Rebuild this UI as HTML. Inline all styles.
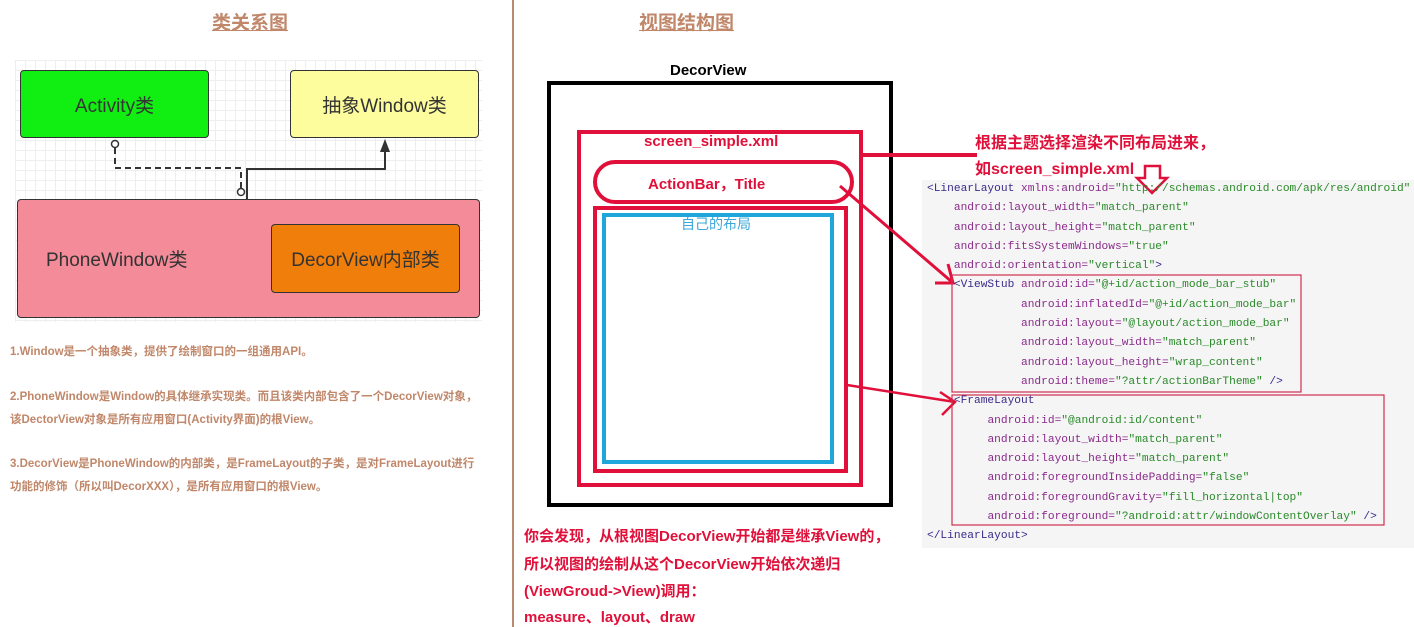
<!DOCTYPE html>
<html><head><meta charset="utf-8"><style>
body{margin:0;width:1414px;height:627px;position:relative;background:#fff;font-family:"Liberation Sans","Noto Sans CJK SC",sans-serif;overflow:hidden}
.a{position:absolute;white-space:nowrap}
.t{color:#c0876a;font-weight:bold;font-size:19px;text-decoration:underline}
.box{position:absolute;box-sizing:border-box;border:1.5px solid #333;border-radius:4px;display:flex;align-items:center;justify-content:center;font-size:19px;color:#333}
.n{color:#c0876a;font-weight:bold;font-size:11.5px}
.r{color:#e0103a;font-weight:bold;font-size:15px}
.code{font-family:"Liberation Mono","Noto Sans CJK SC",monospace;font-size:11.2px;line-height:19.3px}
.k{color:#3a2a8a}.p{color:#8a2a8a}.v{color:#2a8a2a}
</style></head><body>
<div class="a" style="left:15px;top:60px;width:467px;height:262px;background-image:linear-gradient(#eee 1px,transparent 1px),linear-gradient(90deg,#eee 1px,transparent 1px);background-size:10px 10px"></div>
<div class="a t" style="left:212px;top:8px">类关系图</div>
<div class="box" style="left:20px;top:70px;width:189px;height:68px;background:#11ee11">Activity类</div>
<div class="box" style="left:290px;top:70px;width:189px;height:68px;background:#fdfd9d">抽象Window类</div>
<div class="box" style="left:17px;top:199px;width:463px;height:119px;background:#f38b99;justify-content:flex-start;padding-left:28px">PhoneWindow类</div>
<div class="box" style="left:271px;top:224px;width:189px;height:69px;background:#f07e0a">DecorView内部类</div>
<svg class="a" style="left:0;top:0" width="1414" height="627">
<path d="M115 148 V168 H241 V188" fill="none" stroke="#333" stroke-width="2" stroke-dasharray="6,4"/>
<circle cx="115" cy="144" r="3.5" fill="#fff" stroke="#333" stroke-width="1.5"/>
<circle cx="241" cy="192" r="3.5" fill="#fff" stroke="#333" stroke-width="1.5"/>
<path d="M247 199 V169 H385 V150" fill="none" stroke="#333" stroke-width="2"/>
<path d="M385 139 L380 152 L390 152Z" fill="#333"/>
<line x1="513" y1="0" x2="513" y2="627" stroke="#b98a70" stroke-width="2"/>
<rect x="549" y="83" width="342" height="422" fill="none" stroke="#000" stroke-width="4"/>
<rect x="579" y="132" width="282" height="353" fill="none" stroke="#e0103a" stroke-width="4"/>
<rect x="595" y="208" width="251" height="263" fill="none" stroke="#e0103a" stroke-width="4"/>
<rect x="604" y="215" width="228" height="247" fill="none" stroke="#1fa6da" stroke-width="4"/>
<rect x="595" y="162" width="257" height="40" rx="20" fill="none" stroke="#e0103a" stroke-width="4"/>
<path d="M862 155 H977" stroke="#e0103a" stroke-width="4"/>
<path d="M840 186 L952 282 M935 283 L953 283 L948 264" fill="none" stroke="#e0103a" stroke-width="3"/>
<path d="M847 385 L955 402 M940 392 L955 402 L942 415" fill="none" stroke="#e0103a" stroke-width="2.5"/>
<path d="M1145 166 H1160 V178 H1167 L1152 193 L1137 178 H1145Z" fill="#fff" stroke="#e0103a" stroke-width="2.5"/>
<rect x="952" y="275" width="349" height="117" fill="none" stroke="#d03050" stroke-width="1.2"/>
<rect x="952" y="395" width="432" height="130" fill="none" stroke="#d03050" stroke-width="1.2"/>
</svg>
<div class="a n" style="left:10px;top:343px">1.Window是一个抽象类，提供了绘制窗口的一组通用API。</div>
<div class="a n" style="left:10px;top:388px">2.PhoneWindow是Window的具体继承实现类。而且该类内部包含了一个DecorView对象，</div>
<div class="a n" style="left:10px;top:411px">该DectorView对象是所有应用窗口(Activity界面)的根View。</div>
<div class="a n" style="left:10px;top:455px">3.DecorView是PhoneWindow的内部类，是FrameLayout的子类，是对FrameLayout进行</div>
<div class="a n" style="left:10px;top:478px">功能的修饰（所以叫DecorXXX），是所有应用窗口的根View。</div>
<div class="a t" style="left:639px;top:8px">视图结构图</div>
<div class="a" style="left:670px;top:62px;font-weight:bold;font-size:15px">DecorView</div>
<div class="a r" style="left:644px;top:133px">screen_simple.xml</div>
<div class="a r" style="left:648px;top:173px">ActionBar，Title</div>
<div class="a" style="left:681px;top:214px;color:#3ba7d8;font-size:14px">自己的布局</div>
<div class="a r" style="left:524px;top:525px">你会发现，从根视图DecorView开始都是继承View的，</div>
<div class="a r" style="left:524px;top:553px">所以视图的绘制从这个DecorView开始依次递归</div>
<div class="a r" style="left:524px;top:580px">(ViewGroud-&gt;View)调用：</div>
<div class="a r" style="left:524px;top:606px">measure、layout、draw</div>
<div class="a r" style="left:975px;top:129px;font-size:16px">根据主题选择渲染不同布局进来，</div>
<div class="a r" style="left:975px;top:155px;font-size:16px">如screen_simple.xml</div>
<div class="a" style="left:922px;top:180px;width:492px;height:368px;background:#f5f5f5;z-index:-1"></div>
<div class="a code" style="left:927px;top:180px"><span class="k">&lt;LinearLayout</span> <span class="p">xmlns:android=</span><span class="v">"http://schemas.android.com/apk/res/android"</span><br>
&nbsp;&nbsp;&nbsp;&nbsp;<span class="p">android:layout_width=</span><span class="v">"match_parent"</span><br>
&nbsp;&nbsp;&nbsp;&nbsp;<span class="p">android:layout_height=</span><span class="v">"match_parent"</span><br>
&nbsp;&nbsp;&nbsp;&nbsp;<span class="p">android:fitsSystemWindows=</span><span class="v">"true"</span><br>
&nbsp;&nbsp;&nbsp;&nbsp;<span class="p">android:orientation=</span><span class="v">"vertical"</span><span class="k">&gt;</span><br>
&nbsp;&nbsp;&nbsp;&nbsp;<span class="k">&lt;ViewStub</span> <span class="p">android:id=</span><span class="v">"@+id/action_mode_bar_stub"</span><br>
&nbsp;&nbsp;&nbsp;&nbsp;&nbsp;&nbsp;&nbsp;&nbsp;&nbsp;&nbsp;&nbsp;&nbsp;&nbsp;&nbsp;<span class="p">android:inflatedId=</span><span class="v">"@+id/action_mode_bar"</span><br>
&nbsp;&nbsp;&nbsp;&nbsp;&nbsp;&nbsp;&nbsp;&nbsp;&nbsp;&nbsp;&nbsp;&nbsp;&nbsp;&nbsp;<span class="p">android:layout=</span><span class="v">"@layout/action_mode_bar"</span><br>
&nbsp;&nbsp;&nbsp;&nbsp;&nbsp;&nbsp;&nbsp;&nbsp;&nbsp;&nbsp;&nbsp;&nbsp;&nbsp;&nbsp;<span class="p">android:layout_width=</span><span class="v">"match_parent"</span><br>
&nbsp;&nbsp;&nbsp;&nbsp;&nbsp;&nbsp;&nbsp;&nbsp;&nbsp;&nbsp;&nbsp;&nbsp;&nbsp;&nbsp;<span class="p">android:layout_height=</span><span class="v">"wrap_content"</span><br>
&nbsp;&nbsp;&nbsp;&nbsp;&nbsp;&nbsp;&nbsp;&nbsp;&nbsp;&nbsp;&nbsp;&nbsp;&nbsp;&nbsp;<span class="p">android:theme=</span><span class="v">"?attr/actionBarTheme"</span> <span class="k">/&gt;</span><br>
&nbsp;&nbsp;&nbsp;&nbsp;<span class="k">&lt;FrameLayout</span><br>
&nbsp;&nbsp;&nbsp;&nbsp;&nbsp;&nbsp;&nbsp;&nbsp;&nbsp;<span class="p">android:id=</span><span class="v">"@android:id/content"</span><br>
&nbsp;&nbsp;&nbsp;&nbsp;&nbsp;&nbsp;&nbsp;&nbsp;&nbsp;<span class="p">android:layout_width=</span><span class="v">"match_parent"</span><br>
&nbsp;&nbsp;&nbsp;&nbsp;&nbsp;&nbsp;&nbsp;&nbsp;&nbsp;<span class="p">android:layout_height=</span><span class="v">"match_parent"</span><br>
&nbsp;&nbsp;&nbsp;&nbsp;&nbsp;&nbsp;&nbsp;&nbsp;&nbsp;<span class="p">android:foregroundInsidePadding=</span><span class="v">"false"</span><br>
&nbsp;&nbsp;&nbsp;&nbsp;&nbsp;&nbsp;&nbsp;&nbsp;&nbsp;<span class="p">android:foregroundGravity=</span><span class="v">"fill_horizontal|top"</span><br>
&nbsp;&nbsp;&nbsp;&nbsp;&nbsp;&nbsp;&nbsp;&nbsp;&nbsp;<span class="p">android:foreground=</span><span class="v">"?android:attr/windowContentOverlay"</span> <span class="k">/&gt;</span><br>
<span class="k">&lt;/LinearLayout&gt;</span></div>
</body></html>
